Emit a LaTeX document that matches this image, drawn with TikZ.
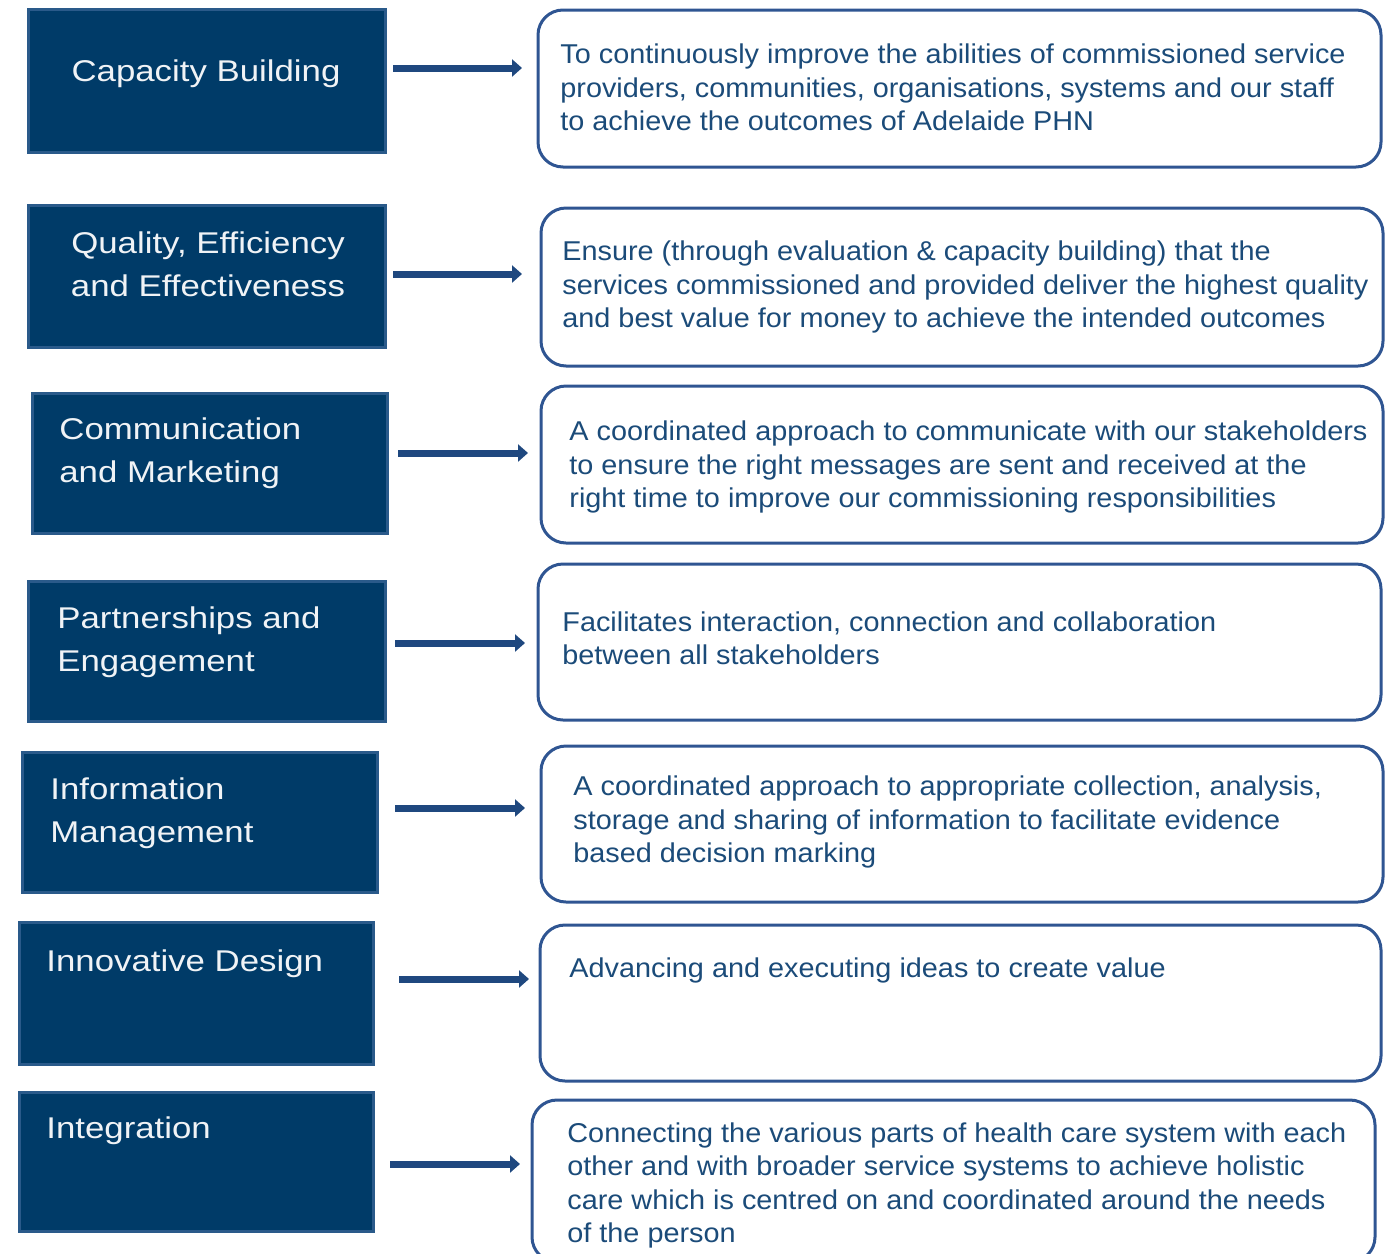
\documentclass[tikz,border=0pt]{standalone}
\usepackage{fontspec}
\setmainfont{Liberation Sans}
\newfontfamily\lfont[FakeStretch=1.16]{Liberation Sans}
\newfontfamily\rfont[FakeStretch=1.06]{Liberation Sans}
\usetikzlibrary{arrows.meta}
\definecolor{navy}{HTML}{003B68}
\definecolor{navyedge}{HTML}{2A5A8A}
\definecolor{redge}{HTML}{2F5592}
\definecolor{rtextc}{HTML}{1B4B79}
\definecolor{arrowc}{HTML}{1F487F}
\tikzset{
  lbox/.style={draw=navyedge, line width=1.5pt, fill=navy, inner sep=0pt, outer sep=0pt, anchor=north west},
  rbox/.style={draw=redge, line width=1.5pt, fill=white, rounded corners=12.5pt, inner sep=0pt, outer sep=0pt, anchor=north west},
  ltext/.style={text=white!94!navy, font=\lfont\fontsize{15pt}{21.5pt}\selectfont, inner sep=0pt, anchor=base west, align=left},
  rtext/.style={text=rtextc, font=\rfont\fontsize{13.6pt}{16.65pt}\selectfont, inner sep=0pt, anchor=base west, align=left},
  arr/.style={draw=arrowc, line width=3.5pt, -{Triangle[length=5pt,width=8.5pt]}}
}
\begin{document}
\begin{tikzpicture}[x=0.5pt,y=-0.5pt]
\useasboundingbox (0,0) rectangle (1386,1253);
\clip (0,0) rectangle (1386,1253);
% left boxes
\node[lbox, minimum width=178.5pt, minimum height=71.5pt] (L1) at (28,9) {};
\node[lbox, minimum width=178.5pt, minimum height=71pt] (L2) at (28,205) {};
\node[lbox, minimum width=177.5pt, minimum height=70pt] (L3) at (32,393) {};
\node[lbox, minimum width=178.5pt, minimum height=70pt] (L4) at (28,581) {};
\node[lbox, minimum width=177.5pt, minimum height=70pt] (L5) at (22,752) {};
\node[lbox, minimum width=177pt, minimum height=71pt] (L6) at (19,922) {};
\node[lbox, minimum width=177pt, minimum height=69.5pt] (L7) at (19,1092) {};
% right boxes
\node[rbox, minimum width=421.5pt, minimum height=78.5pt] (R1) at (538,10) {};
\node[rbox, minimum width=421pt, minimum height=79pt] (R2) at (541,208) {};
\node[rbox, minimum width=421pt, minimum height=78.5pt] (R3) at (541,386) {};
\node[rbox, minimum width=421.5pt, minimum height=78pt] (R4) at (538,564) {};
\node[rbox, minimum width=421pt, minimum height=78pt] (R5) at (541,746) {};
\node[rbox, minimum width=420.5pt, minimum height=78pt] (R6) at (540,925) {};
\node[rbox, minimum width=421.5pt, minimum height=81pt] (R7) at (532,1100) {};
% left texts (anchored at the baseline of the last line)
\node[ltext, anchor=base] (T1) at (206,81) {Capacity Building};
\node[ltext, anchor=base, align=center] (T2) at (208,296) {Quality, Efficiency\\and Effectiveness};
\node[ltext] (T3) at (59,482) {Communication\\and Marketing};
\node[ltext] (T4) at (57,671) {Partnerships and\\Engagement};
\node[ltext] (T5) at (50,842) {Information\\Management};
\node[ltext] (T6) at (46,971) {Innovative Design};
\node[ltext] (T7) at (46,1138) {Integration};
% right texts (anchored at the baseline of the last line)
\node[rtext] (D1) at (560,130.5) {To continuously improve the abilities of commissioned service\\providers, communities, organisations, systems and our staff\\to achieve the outcomes of Adelaide PHN};
\node[rtext] (D2) at (562,327.5) {Ensure (through evaluation \& capacity building) that the\\services commissioned and provided deliver the highest quality\\and best value for money to achieve the intended outcomes};
\node[rtext] (D3) at (569,507.5) {A coordinated approach to communicate with our stakeholders\\to ensure the right messages are sent and received at the\\right time to improve our commissioning responsibilities};
\node[rtext] (D4) at (562,664.5) {Facilitates interaction, connection and collaboration\\between all stakeholders};
\node[rtext] (D5) at (573,862.5) {A coordinated approach to appropriate collection, analysis,\\storage and sharing of information to facilitate evidence\\based decision marking};
\node[rtext] (D6) at (569,977.5) {Advancing and executing ideas to create value};
\node[rtext] (D7) at (567,1242.5) {Connecting the various parts of health care system with each\\other and with broader service systems to achieve holistic\\care which is centred on and coordinated around the needs\\of the person};
% arrows
\coordinate (s1) at (393,68);   \coordinate (e1) at (522,68);
\coordinate (s2) at (393,274);  \coordinate (e2) at (522,274);
\coordinate (s3) at (398,453);  \coordinate (e3) at (528,453);
\coordinate (s4) at (395,643);  \coordinate (e4) at (525,643);
\coordinate (s5) at (395,808);  \coordinate (e5) at (525,808);
\coordinate (s6) at (399,979);  \coordinate (e6) at (529,979);
\coordinate (s7) at (390,1164); \coordinate (e7) at (520,1164);
\foreach \i in {1,...,7} {\draw[arr] (s\i) -- (e\i);}
\end{tikzpicture}
\end{document}
